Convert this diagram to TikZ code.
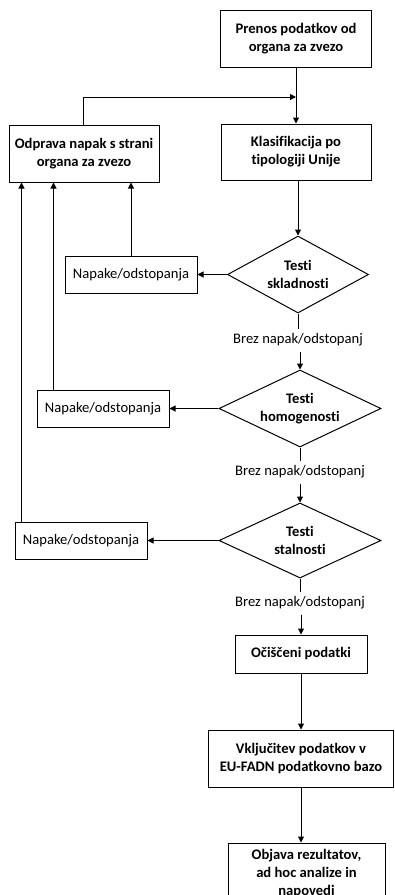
\documentclass[tikz,border=0pt]{standalone}
\usepackage{fontspec}
\setmainfont{Carlito}[Ligatures=NoCommon]
\usetikzlibrary{shapes.geometric}
\usetikzlibrary{arrows.meta}

\begin{document}
\begin{tikzpicture}
[x=1pt,y=-1pt,line width=1pt,%
  >={Triangle[length=6pt,width=6pt]},%
  every node/.style={align=center,inner sep=0pt},%
  box/.style={rectangle,draw,font=\bfseries},%
  napaka/.style={rectangle,draw,minimum width=132pt,minimum height=37pt},%
  test/.style={diamond,draw,aspect=2,font=\bfseries},%
  brez/.style={minimum height=22pt}]
\fontsize{14.6}{18}\selectfont
\useasboundingbox (0,0) rectangle (394,895);
\node[box,minimum width=151pt,minimum height=57pt] (prenos) at (296,38.5) {Prenos podatkov od\\organa za zvezo};
\node[box,minimum width=150pt,minimum height=56pt] (klas) at (296,152) {Klasifikacija po\\tipologiji Unije};
\node[box,minimum width=150pt,minimum height=57pt] (odprava) at (84,153.5) {Odprava napak s strani\\organa za zvezo};
\node[test,minimum width=141pt,minimum height=77pt] (t1) at (298,274.5) {Testi\\skladnosti};
\node[napaka] (n1) at (131,274.5) {Napake/odstopanja};
\node[brez] (b1) at (298,340) {Brez napak/odstopanj};
\node[test,minimum width=162pt,minimum height=77pt] (t2) at (300,408.5) {Testi\\homogenosti};
\node[napaka] (n2) at (103,408.5) {Napake/odstopanja};
\node[brez] (b2) at (300,472) {Brez napak/odstopanj};
\node[test,minimum width=162pt,minimum height=75pt] (t3) at (300,540.5) {Testi\\stalnosti};
\node[napaka] (n3) at (81,540.5) {Napake/odstopanja};
\node[brez] (b3) at (300,603) {Brez napak/odstopanj};
\node[box,minimum width=132pt,minimum height=38pt] (ocisceni) at (301,654) {Očiščeni podatki};
\node[box,minimum width=185pt,minimum height=57pt] (vkljucitev) at (301,758.5) {Vključitev podatkov v\\EU-FADN podatkovno bazo};
\node[box,minimum width=157pt,minimum height=62pt] (objava) at (306.5,874) {Objava rezultatov,\\ad hoc analize in\\napovedi};
\coordinate (zdruzi) at (296,97);
\coordinate (g2) at ([xshift=17pt]n2.north west);
\coordinate (g3) at ([xshift=7pt]n3.north west);
\draw[->] (prenos) -- (klas);
\draw[->] (odprava.north -| 83,0) |- (zdruzi);
\draw[->] (klas.south -| t1.north) -- (t1.north);
\draw[->] (t1) -- (n1);
\draw (t1) -- (b1);
\draw[->] (b1.south -| t2.north) -- (t2);
\draw[->] (t2) -- (n2);
\draw (t2) -- (b2);
\draw[->] (b2) -- (t3);
\draw[->] (t3) -- (n3);
\draw (t3) -- (b3);
\draw[->] (b3.south -| ocisceni.north) -- (ocisceni);
\draw[->] (ocisceni) -- (vkljucitev);
\draw[->] (vkljucitev) -- (vkljucitev.south |- objava.north);
\draw[->] (n1.north) -- (n1.north |- odprava.south);
\draw[->] (g2) -- (g2 |- odprava.south);
\draw[->] (g3) -- (g3 |- odprava.south);
\end{tikzpicture}
\end{document}
